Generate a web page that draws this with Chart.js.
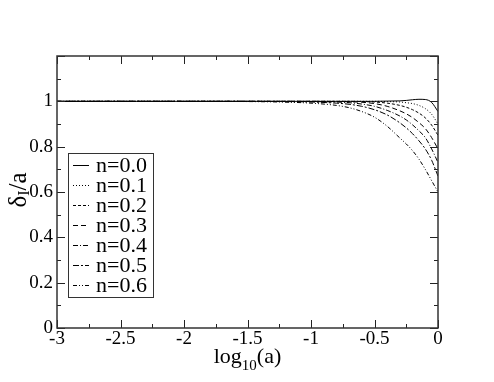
<!DOCTYPE html>
<html>
<head>
<meta charset="utf-8">
<script src="https://cdn.jsdelivr.net/npm/chart.js@4.4.0/dist/chart.umd.min.js"></script>
<style>
  html, body { margin: 0; padding: 0; background: #fff; }
  #wrap { width: 494px; height: 382px; }
</style>
</head>
<body>
<div id="wrap"><canvas id="myChart" width="494" height="382"></canvas></div>
<script>
// log10(a) sample points
const logA = [-3, -2.5, -2, -1.5, -1.25, -1, -0.8, -0.7, -0.6, -0.5, -0.4, -0.3, -0.25, -0.2, -0.15, -0.1, -0.05, 0];

// delta_I / a
const n00 = [1, 1, 1, 1, 1, 1, 1, 1, 1, 1, 1.001, 1.002, 1.004, 1.007, 1.009, 1.008, 0.995, 0.955];
const n01 = [1, 1, 1, 1, 1, 1, 1, 1, 1, 1, 0.999, 0.997, 0.994, 0.99, 0.982, 0.968, 0.943, 0.90];
const n02 = [1, 1, 1, 1, 1, 1, 1, 1, 0.999, 0.997, 0.992, 0.982, 0.974, 0.963, 0.948, 0.927, 0.895, 0.85];
const n03 = [1, 1, 1, 1, 1, 1, 0.999, 0.998, 0.996, 0.99, 0.978, 0.958, 0.945, 0.928, 0.906, 0.88, 0.84, 0.79];
const n04 = [1, 1, 1, 1, 1, 0.999, 0.997, 0.994, 0.988, 0.978, 0.96, 0.935, 0.918, 0.896, 0.87, 0.84, 0.79, 0.73];
const n05 = [1, 1, 1, 1, 0.999, 0.997, 0.992, 0.987, 0.978, 0.963, 0.94, 0.905, 0.883, 0.857, 0.826, 0.79, 0.74, 0.67];
const n06 = [1, 1, 1, 0.999, 0.997, 0.992, 0.982, 0.972, 0.955, 0.93, 0.89, 0.838, 0.812, 0.782, 0.745, 0.70, 0.65, 0.60];

const seriesNames = ['n=0.0', 'n=0.1', 'n=0.2', 'n=0.3', 'n=0.4', 'n=0.5', 'n=0.6'];
const seriesValues = [n00, n01, n02, n03, n04, n05, n06];
const dashes = [[], [1, 2], [3, 2], [5, 3], [5, 2, 1, 2], [6, 2, 2, 2], [4, 2, 1, 2, 1, 2]];

const xTicks = [-3, -2.5, -2, -1.5, -1, -0.5, 0];
const yTicks = [0, 0.2, 0.4, 0.6, 0.8, 1];

const SERIF = '"Liberation Serif", "DejaVu Serif", serif';

const datasets = seriesNames.map(function (name, i) {
  return {
    label: name,
    data: logA.map((x, k) => ({ x: x, y: seriesValues[i][k] })),
    borderColor: '#000',
    borderWidth: 1,
    borderDash: dashes[i],
    pointRadius: 0,
    fill: false,
    cubicInterpolationMode: 'monotone'
  };
});

// frame, inward ticks, axis titles, legend
const decor = {
  id: 'decor',
  afterDraw(chart) {
    const ctx = chart.ctx;
    const a = chart.chartArea;
    const xs = chart.scales.x, ys = chart.scales.y;
    ctx.save();
    ctx.strokeStyle = '#222';
    ctx.lineWidth = 1;
    // ticks on all sides
    for (let v = -3; v <= 0.001; v += 0.25) {
      const px = Math.round(xs.getPixelForValue(v)) + 0.5;
      const len = (Math.abs(v * 2 - Math.round(v * 2)) < 1e-6) ? 8 : 4;
      ctx.beginPath();
      ctx.moveTo(px, a.bottom); ctx.lineTo(px, a.bottom - len);
      ctx.moveTo(px, a.top); ctx.lineTo(px, a.top + len);
      ctx.stroke();
    }
    for (let k = 0; k <= 12; k++) {
      const v = k / 10;
      const py = Math.round(ys.getPixelForValue(v)) + 0.5;
      const len = (k % 2 === 0) ? 8 : 4;
      ctx.beginPath();
      ctx.moveTo(a.left, py); ctx.lineTo(a.left + len, py);
      ctx.moveTo(a.right, py); ctx.lineTo(a.right - len, py);
      ctx.stroke();
    }
    // frame
    ctx.lineWidth = 1.5;
    ctx.strokeStyle = '#333';
    ctx.strokeRect(a.left, a.top, a.right - a.left, a.bottom - a.top);

    // x title: log10(a)
    ctx.fillStyle = '#000';
    ctx.textBaseline = 'alphabetic';
    const big = '22px ' + SERIF, small = '15px ' + SERIF;
    ctx.font = big; const w1 = ctx.measureText('log').width, w3 = ctx.measureText('(a)').width;
    ctx.font = small; const w2 = ctx.measureText('10').width;
    let x0 = (a.left + a.right) / 2 - (w1 + w2 + w3) / 2;
    const by = 363;
    ctx.font = big; ctx.textAlign = 'left'; ctx.fillText('log', x0, by);
    ctx.font = small; ctx.fillText('10', x0 + w1, by + 7);
    ctx.font = big; ctx.fillText('(a)', x0 + w1 + w2, by);

    // y title: delta_I / a (rotated)
    const ybig = '25px ' + SERIF, ysmall = '16px ' + SERIF;
    ctx.save();
    ctx.translate(26, 190);
    ctx.rotate(-Math.PI / 2);
    ctx.font = ybig; const d1 = ctx.measureText('δ').width, d3 = ctx.measureText('/a').width;
    ctx.font = ysmall; const d2 = ctx.measureText('I').width;
    let y0 = -(d1 + d2 + d3) / 2;
    ctx.font = ybig; ctx.fillText('δ', y0, 0);
    ctx.font = ysmall; ctx.fillText('I', y0 + d1, 3);
    ctx.font = ybig; ctx.fillText('/a', y0 + d1 + d2, 0);
    ctx.restore();

    // legend box
    const lx = 68, ly = 153, lw = 85, lh = 144;
    ctx.fillStyle = '#fff';
    ctx.fillRect(lx, ly, lw, lh);
    ctx.lineWidth = 1;
    ctx.strokeStyle = '#333';
    ctx.strokeRect(lx + 0.5, ly + 0.5, lw, lh);
    ctx.font = '22px ' + SERIF;
    ctx.textBaseline = 'middle';
    chart.data.datasets.forEach(function (ds, i) {
      const yy = ly + 12 + i * 20;
      ctx.setLineDash(ds.borderDash);
      ctx.strokeStyle = '#000';
      ctx.beginPath();
      ctx.moveTo(73, Math.round(yy) + 0.5); ctx.lineTo(89, Math.round(yy) + 0.5);
      ctx.stroke();
      ctx.setLineDash([]);
      ctx.fillStyle = '#000';
      ctx.fillText(ds.label, 96, yy + 1);
    });
    ctx.restore();
  }
};

const config = {
  type: 'line',
  data: { datasets: datasets },
  options: {
    responsive: false,
    animation: false,
    devicePixelRatio: 1,
    layout: { padding: { top: 56, right: 56, left: 0, bottom: 0 } },
    plugins: { legend: { display: false }, tooltip: { enabled: false } },
    scales: {
      x: {
        type: 'linear', min: -3, max: 0,
        grid: { display: false, drawTicks: false },
        border: { display: false },
        afterFit: function (s) { s.height = 54; },
        afterBuildTicks: function (s) { s.ticks = xTicks.map(v => ({ value: v })); },
        ticks: {
          padding: 0, maxRotation: 0, autoSkip: false, color: '#000',
          font: { family: SERIF, size: 19 },
          callback: v => String(v)
        }
      },
      y: {
        type: 'linear', min: 0, max: 1.2,
        grid: { display: false, drawTicks: false },
        border: { display: false },
        afterFit: function (s) { s.width = 57; },
        afterBuildTicks: function (s) { s.ticks = yTicks.map(v => ({ value: v })); },
        ticks: {
          padding: 4, autoSkip: false, color: '#000',
          font: { family: SERIF, size: 19 },
          callback: v => (v === 0 || v === 1) ? String(v) : v.toFixed(1)
        }
      }
    }
  },
  plugins: [decor]
};

const ctx = document.getElementById('myChart').getContext('2d');
const myChart = new Chart(ctx, config);
</script>
</body>
</html>
